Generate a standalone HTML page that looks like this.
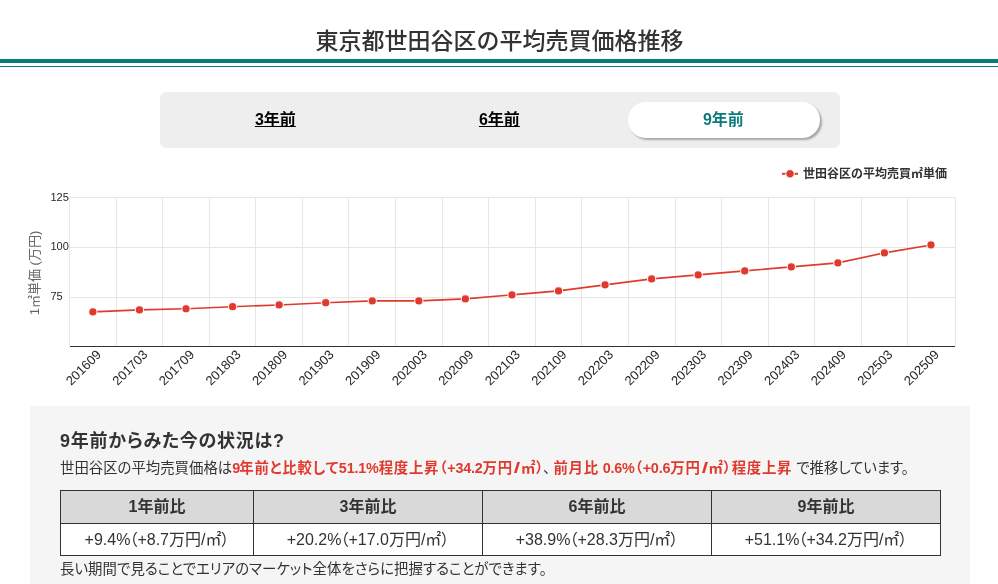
<!DOCTYPE html>
<html lang="ja">
<head>
<meta charset="utf-8">
<title>東京都世田谷区の平均売買価格推移</title>
<style>
html,body{margin:0;padding:0;background:#fff;}
body{width:998px;height:584px;overflow:hidden;position:relative;font-family:"Liberation Sans","Noto Sans CJK JP",sans-serif;color:#333;}
h1{position:absolute;left:.6px;top:23px;width:998px;margin:0;text-align:center;font-size:23px;line-height:36px;font-weight:500;color:#333;letter-spacing:0;}
.rule1{position:absolute;left:0;top:59px;width:998px;height:4px;background:#0a7b7b;}
.rule2{position:absolute;left:0;top:66px;width:998px;height:1px;background:#0a7b7b;}
.tabs{position:absolute;left:160px;top:92px;width:680px;height:56px;background:#eee;border-radius:6px;}
.tab{position:absolute;top:10px;width:192px;height:36px;line-height:36px;text-align:center;font-size:16px;font-weight:700;color:#000;border-radius:18px;}
.tab span{text-decoration:underline;display:inline-block;transform:translateX(-.6px);}
.tab.on{background:#fff;color:#0a7b7b;box-shadow:2px 2px 2px rgba(0,0,0,.3);}
.tab.on span{text-decoration:none;}
.chart{position:absolute;left:0;top:160px;}
.chart text{font-family:"Liberation Sans","Noto Sans CJK JP",sans-serif;}
.ax{font-size:11px;fill:#262626;}
.xl{font-size:13px;}
.yt{font-size:13px;fill:#666;}
.lg{font-size:12px;font-weight:700;fill:#333;}
.box{position:absolute;left:30px;top:406px;width:940px;height:200px;background:#f5f5f5;}
h2{position:absolute;left:60px;top:427px;margin:0;font-size:18px;line-height:28px;font-weight:700;color:#333;white-space:nowrap;font-feature-settings:"palt";letter-spacing:.75px;}
.p1{position:absolute;left:60px;top:456.5px;margin:0;font-size:14.4px;font-feature-settings:"palt";line-height:22px;color:#333;white-space:nowrap;}
.p1 b{color:#e03a2e;font-weight:700;letter-spacing:.75px;}
.p1 i{font-style:normal;letter-spacing:-.2px;}
.p1 i.n9{letter-spacing:-.9px;}
.p1 i.sl{display:inline-block;width:8px;text-align:center;letter-spacing:0;transform:scaleX(1.6);}
.p1 .cm{margin-right:3px;margin-left:-.75px;}
table{position:absolute;left:60px;top:490px;width:880px;border-collapse:collapse;table-layout:fixed;font-size:16px;color:#333;font-feature-settings:"palt";}
th,td{border:1px solid #333;text-align:center;padding:0;white-space:nowrap;}
th{background:#d9d9d9;font-weight:700;height:30px;line-height:28px;padding:1px 0;}
td{background:#fff;height:29px;line-height:27px;padding:1px 0;}
td i{font-style:normal;letter-spacing:-1px;}
.p2{position:absolute;left:60px;top:558px;margin:0;letter-spacing:.07px;font-size:14.4px;font-feature-settings:"palt";line-height:22px;color:#333;white-space:nowrap;}
</style>
</head>
<body>
<h1>東京都世田谷区の平均売買価格推移</h1>
<div class="rule1"></div><div class="rule2"></div>
<div class="tabs">
<div class="tab" style="left:20px"><span>3年前</span></div>
<div class="tab" style="left:244px"><span>6年前</span></div>
<div class="tab on" style="left:468px"><span>9年前</span></div>
</div>
<svg class="chart" width="998" height="260" viewBox="0 160 998 260">
<path d="M69.5 197.0V346.5" stroke="#e6e6e6" stroke-width="1" fill="none"/>
<path d="M116.5 197.0V346.5" stroke="#e6e6e6" stroke-width="1" fill="none"/>
<path d="M162.5 197.0V346.5" stroke="#e6e6e6" stroke-width="1" fill="none"/>
<path d="M209.5 197.0V346.5" stroke="#e6e6e6" stroke-width="1" fill="none"/>
<path d="M255.5 197.0V346.5" stroke="#e6e6e6" stroke-width="1" fill="none"/>
<path d="M302.5 197.0V346.5" stroke="#e6e6e6" stroke-width="1" fill="none"/>
<path d="M348.5 197.0V346.5" stroke="#e6e6e6" stroke-width="1" fill="none"/>
<path d="M395.5 197.0V346.5" stroke="#e6e6e6" stroke-width="1" fill="none"/>
<path d="M442.5 197.0V346.5" stroke="#e6e6e6" stroke-width="1" fill="none"/>
<path d="M488.5 197.0V346.5" stroke="#e6e6e6" stroke-width="1" fill="none"/>
<path d="M535.5 197.0V346.5" stroke="#e6e6e6" stroke-width="1" fill="none"/>
<path d="M581.5 197.0V346.5" stroke="#e6e6e6" stroke-width="1" fill="none"/>
<path d="M628.5 197.0V346.5" stroke="#e6e6e6" stroke-width="1" fill="none"/>
<path d="M675.5 197.0V346.5" stroke="#e6e6e6" stroke-width="1" fill="none"/>
<path d="M721.5 197.0V346.5" stroke="#e6e6e6" stroke-width="1" fill="none"/>
<path d="M768.5 197.0V346.5" stroke="#e6e6e6" stroke-width="1" fill="none"/>
<path d="M814.5 197.0V346.5" stroke="#e6e6e6" stroke-width="1" fill="none"/>
<path d="M861.5 197.0V346.5" stroke="#e6e6e6" stroke-width="1" fill="none"/>
<path d="M907.5 197.0V346.5" stroke="#e6e6e6" stroke-width="1" fill="none"/>
<path d="M955.5 197.0V346.5" stroke="#e6e6e6" stroke-width="1" fill="none"/>
<path d="M69.0 197.5H956.0" stroke="#e6e6e6" stroke-width="1" fill="none"/>
<path d="M69.0 247.5H956.0" stroke="#e6e6e6" stroke-width="1" fill="none"/>
<path d="M69.0 297.5H956.0" stroke="#e6e6e6" stroke-width="1" fill="none"/>
<path d="M70.0 346.5H955.0" stroke="#333" stroke-width="1" fill="none"/>
<path d="M92.90 311.90 L139.46 309.90 L186.02 308.80 L232.58 306.70 L279.14 304.95 L325.70 302.70 L372.26 300.90 L418.82 300.90 L465.38 298.90 L511.94 294.90 L558.50 290.90 L605.06 284.85 L651.62 278.90 L698.18 274.90 L744.74 270.90 L791.30 266.90 L837.86 262.90 L884.42 252.90 L930.98 244.95" stroke="#e03a2e" stroke-width="1.6" fill="none" stroke-linejoin="round" stroke-linecap="round"/>
<circle cx="92.90" cy="311.90" r="4.1" fill="#e03a2e" stroke="#fff" stroke-width="1"/>
<circle cx="139.46" cy="309.90" r="4.1" fill="#e03a2e" stroke="#fff" stroke-width="1"/>
<circle cx="186.02" cy="308.80" r="4.1" fill="#e03a2e" stroke="#fff" stroke-width="1"/>
<circle cx="232.58" cy="306.70" r="4.1" fill="#e03a2e" stroke="#fff" stroke-width="1"/>
<circle cx="279.14" cy="304.95" r="4.1" fill="#e03a2e" stroke="#fff" stroke-width="1"/>
<circle cx="325.70" cy="302.70" r="4.1" fill="#e03a2e" stroke="#fff" stroke-width="1"/>
<circle cx="372.26" cy="300.90" r="4.1" fill="#e03a2e" stroke="#fff" stroke-width="1"/>
<circle cx="418.82" cy="300.90" r="4.1" fill="#e03a2e" stroke="#fff" stroke-width="1"/>
<circle cx="465.38" cy="298.90" r="4.1" fill="#e03a2e" stroke="#fff" stroke-width="1"/>
<circle cx="511.94" cy="294.90" r="4.1" fill="#e03a2e" stroke="#fff" stroke-width="1"/>
<circle cx="558.50" cy="290.90" r="4.1" fill="#e03a2e" stroke="#fff" stroke-width="1"/>
<circle cx="605.06" cy="284.85" r="4.1" fill="#e03a2e" stroke="#fff" stroke-width="1"/>
<circle cx="651.62" cy="278.90" r="4.1" fill="#e03a2e" stroke="#fff" stroke-width="1"/>
<circle cx="698.18" cy="274.90" r="4.1" fill="#e03a2e" stroke="#fff" stroke-width="1"/>
<circle cx="744.74" cy="270.90" r="4.1" fill="#e03a2e" stroke="#fff" stroke-width="1"/>
<circle cx="791.30" cy="266.90" r="4.1" fill="#e03a2e" stroke="#fff" stroke-width="1"/>
<circle cx="837.86" cy="262.90" r="4.1" fill="#e03a2e" stroke="#fff" stroke-width="1"/>
<circle cx="884.42" cy="252.90" r="4.1" fill="#e03a2e" stroke="#fff" stroke-width="1"/>
<circle cx="930.98" cy="244.95" r="4.1" fill="#e03a2e" stroke="#fff" stroke-width="1"/>
<text x="50.5" y="201" text-anchor="start" class="ax">125</text>
<text x="50.5" y="250.2" text-anchor="start" class="ax">100</text>
<text x="50.5" y="300.2" text-anchor="start" class="ax">75</text>
<text x="101.90" y="355.4" text-anchor="end" class="ax xl" transform="rotate(-45 101.90 355.4)">201609</text>
<text x="148.46" y="355.4" text-anchor="end" class="ax xl" transform="rotate(-45 148.46 355.4)">201703</text>
<text x="195.02" y="355.4" text-anchor="end" class="ax xl" transform="rotate(-45 195.02 355.4)">201709</text>
<text x="241.58" y="355.4" text-anchor="end" class="ax xl" transform="rotate(-45 241.58 355.4)">201803</text>
<text x="288.14" y="355.4" text-anchor="end" class="ax xl" transform="rotate(-45 288.14 355.4)">201809</text>
<text x="334.70" y="355.4" text-anchor="end" class="ax xl" transform="rotate(-45 334.70 355.4)">201903</text>
<text x="381.26" y="355.4" text-anchor="end" class="ax xl" transform="rotate(-45 381.26 355.4)">201909</text>
<text x="427.82" y="355.4" text-anchor="end" class="ax xl" transform="rotate(-45 427.82 355.4)">202003</text>
<text x="474.38" y="355.4" text-anchor="end" class="ax xl" transform="rotate(-45 474.38 355.4)">202009</text>
<text x="520.94" y="355.4" text-anchor="end" class="ax xl" transform="rotate(-45 520.94 355.4)">202103</text>
<text x="567.50" y="355.4" text-anchor="end" class="ax xl" transform="rotate(-45 567.50 355.4)">202109</text>
<text x="614.06" y="355.4" text-anchor="end" class="ax xl" transform="rotate(-45 614.06 355.4)">202203</text>
<text x="660.62" y="355.4" text-anchor="end" class="ax xl" transform="rotate(-45 660.62 355.4)">202209</text>
<text x="707.18" y="355.4" text-anchor="end" class="ax xl" transform="rotate(-45 707.18 355.4)">202303</text>
<text x="753.74" y="355.4" text-anchor="end" class="ax xl" transform="rotate(-45 753.74 355.4)">202309</text>
<text x="800.30" y="355.4" text-anchor="end" class="ax xl" transform="rotate(-45 800.30 355.4)">202403</text>
<text x="846.86" y="355.4" text-anchor="end" class="ax xl" transform="rotate(-45 846.86 355.4)">202409</text>
<text x="893.42" y="355.4" text-anchor="end" class="ax xl" transform="rotate(-45 893.42 355.4)">202503</text>
<text x="939.98" y="355.4" text-anchor="end" class="ax xl" transform="rotate(-45 939.98 355.4)">202509</text>
<text x="39" y="273" text-anchor="middle" class="yt" transform="rotate(-90 39 273)">1㎡単価 (万円)</text>
<path d="M782 173.8H798" stroke="#e03a2e" stroke-width="2" fill="none"/>
<circle cx="790" cy="173.8" r="4.25" fill="#e03a2e" stroke="#fff" stroke-width="1"/>
<text x="803" y="178" class="lg">世田谷区の平均売買㎡単価</text>
</svg>
<div class="box"></div>
<h2>9年前からみた今の状況は?</h2>
<p class="p1">世田谷区の平均売買価格は<b><i class="n9">9</i>年前と比較して<i>51.1%</i>程度上昇（<i>+34.2</i>万円<i class="sl">/</i>㎡）</b><span class="cm">、</span><b>前月比<i> 0.6%</i>（<i>+0.6</i>万円<i class="sl">/</i>㎡）程度上昇</b> で推移しています。</p>
<table>
<colgroup><col style="width:193px"><col style="width:229px"><col style="width:229px"><col style="width:229px"></colgroup>
<tr><th>1年前比</th><th>3年前比</th><th>6年前比</th><th>9年前比</th></tr>
<tr><td>+9.4<i>%</i>（+8.7万円/㎡）</td><td>+20.2<i>%</i>（+17.0万円/㎡）</td><td>+38.9<i>%</i>（+28.3万円/㎡）</td><td>+51.1<i>%</i>（+34.2万円/㎡）</td></tr>
</table>
<p class="p2">長い期間で見ることでエリアのマーケット全体をさらに把握することができます。</p>
</body>
</html>
